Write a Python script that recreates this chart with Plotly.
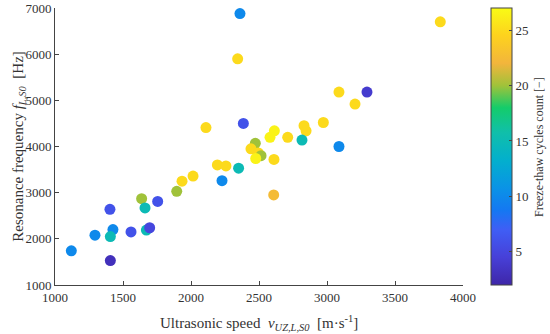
import plotly.graph_objects as go

# Ultrasonic speed v_UZ,L,S0 [m/s]
speed = [2360, 2343, 2385, 2110, 3833, 3088, 3294, 3206, 2973, 2831,
         2846, 2711, 2816, 3088, 2613, 2581, 2473, 2441, 2495, 2515,
         2476, 2610, 2194, 2257, 2350, 2015, 2228, 2608, 1934, 1895,
         1637, 1755, 1662, 1404, 1426, 1559, 1672, 1696, 1294, 1407,
         1120, 1407]
# Resonance frequency f_L,S0 [Hz]
freq = [6880, 5900, 4500, 4410, 6700, 5180, 5180, 4920, 4520, 4450,
        4340, 4200, 4140, 4000, 4340, 4200, 4070, 3950, 3860, 3800,
        3740, 3720, 3600, 3580, 3530, 3360, 3260, 2950, 3250, 3030,
        2870, 2810, 2670, 2640, 2200, 2150, 2190, 2240, 2080, 2050,
        1740, 1530]
# Freeze-thaw cycles count
cycles = [10, 25, 6, 25, 25, 25, 4, 25, 25, 25,
          25, 25, 15, 10, 26.5, 26.5, 20, 25, 25, 20,
          26.5, 25, 25, 25, 15, 25, 10, 22.5, 25, 20,
          20, 6, 15, 6, 10, 6, 15, 5, 10, 15,
          10, 3]

x_ticks = [1000, 1500, 2000, 2500, 3000, 3500, 4000]
y_ticks = [1000, 2000, 3000, 4000, 5000, 6000, 7000]
cbar_ticks = [5, 10, 15, 20, 25]

parula = [
    [0.00, "#3E26A8"],
    [0.10, "#4740D8"],
    [0.20, "#3F5EF5"],
    [0.27, "#1478F2"],
    [0.35, "#0A93E6"],
    [0.45, "#03AFCD"],
    [0.55, "#10BFAA"],
    [0.64, "#14CC6A"],
    [0.72, "#A0C23A"],
    [0.80, "#F2B53C"],
    [0.90, "#FDD21E"],
    [1.00, "#F9FB15"],
]

font_family = "Liberation Serif, DejaVu Serif, serif"
axis_color = "#444444"
text_color = "#333333"

fig = go.Figure(go.Scatter(
    x=speed, y=freq, mode="markers",
    marker=dict(
        size=11, color=cycles, colorscale=parula, cmin=2, cmax=27,
        line=dict(width=0),
        colorbar=dict(
            x=1.069, xanchor="left", y=0.5, yanchor="middle",
            len=1.0, lenmode="fraction", thickness=21,
            outlinewidth=1, outlinecolor=axis_color,
            ticks="inside", ticklen=3, tickcolor=axis_color,
            tickvals=cbar_ticks, xpad=0, ypad=0,
            tickfont=dict(family=font_family, size=13, color=text_color),
        ),
    ),
    showlegend=False,
))

fig.update_layout(
    width=550, height=334,
    margin=dict(l=55, r=87, t=8, b=49, autoexpand=False),
    paper_bgcolor="white", plot_bgcolor="white",
    font=dict(family=font_family, color=text_color),
    xaxis=dict(
        range=[1000, 4000], tickvals=x_ticks, showgrid=False, zeroline=False,
        showline=True, linecolor=axis_color, linewidth=1,
        ticks="inside", ticklen=4, tickcolor=axis_color,
        tickfont=dict(size=13),
    ),
    yaxis=dict(
        range=[1000, 7000], tickvals=y_ticks, showgrid=False, zeroline=False,
        showline=True, linecolor=axis_color, linewidth=1,
        ticks="inside", ticklen=4, tickcolor=axis_color,
        tickfont=dict(size=13),
    ),
    annotations=[
        dict(text="Ultrasonic speed  <i>v</i><sub><i>UZ,L,S0</i></sub>  [m·s<sup>-1</sup>]",
             xref="paper", yref="paper", x=0.5, y=-0.095, xanchor="center", yanchor="top",
             showarrow=False, font=dict(size=15, color=text_color)),
        dict(text="Resonance frequency <i>f</i><sub><i>L,S0</i></sub>  [Hz]",
             xref="paper", yref="paper", x=-0.09, y=0.5, xanchor="center", yanchor="middle",
             textangle=-90, showarrow=False, font=dict(size=15, color=text_color)),
        dict(text="Freeze-thaw cycles count [−]",
             xref="paper", yref="paper", x=1.185, y=0.5, xanchor="center", yanchor="middle",
             textangle=-90, showarrow=False, font=dict(size=12, color=text_color)),
    ],
)

fig.write_html("out.html", config={"responsive": False, "displayModeBar": False},
               post_script="document.body.style.margin='0px';document.body.style.overflow='hidden';")
